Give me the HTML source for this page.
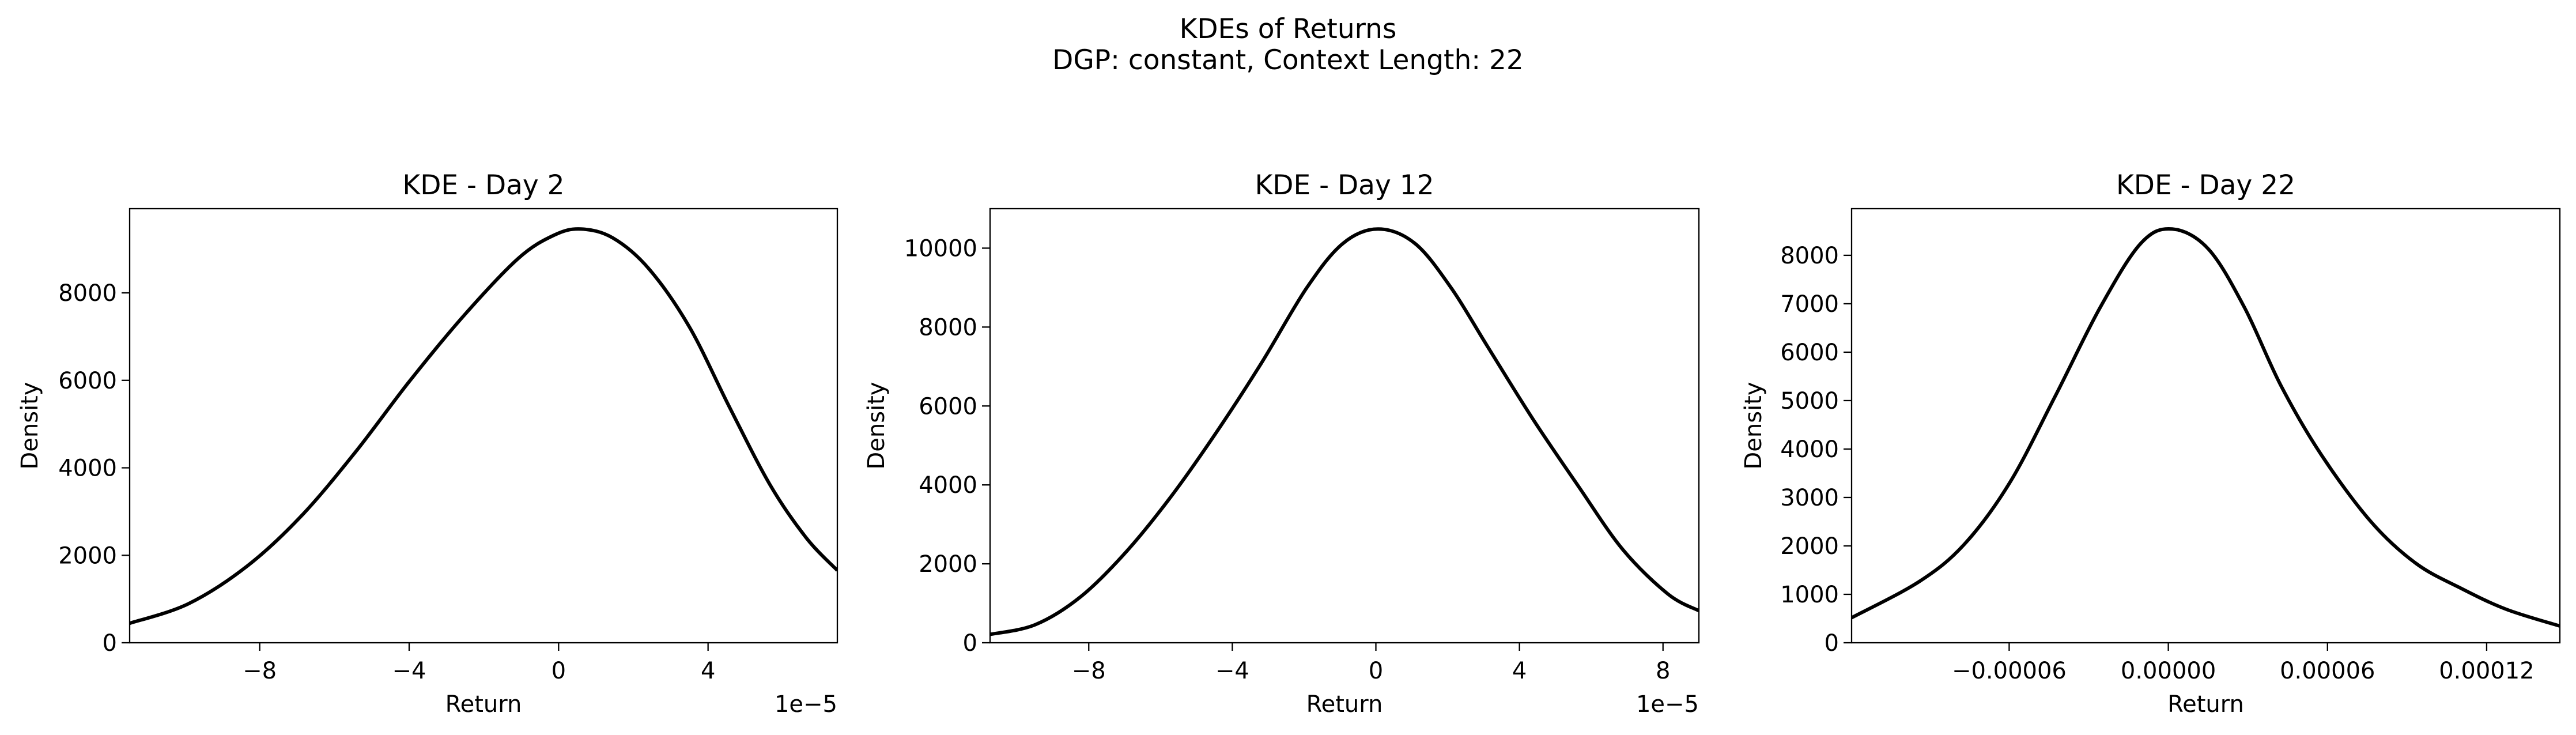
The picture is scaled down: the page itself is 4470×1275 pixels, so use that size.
<!DOCTYPE html>
<html><head><meta charset="utf-8"><style>
html,body{margin:0;padding:0;background:#fff;}
svg{display:block;font-family:"DejaVu Sans","Liberation Sans",sans-serif;}
</style></head><body>
<svg id="fig" width="4470" height="1275" viewBox="0 0 4470 1275" xmlns="http://www.w3.org/2000/svg">
<rect width="4470" height="1275" fill="#fff"/>
<text x="2235" y="66" font-size="47" text-anchor="middle">KDEs of Returns</text>
<text x="2235" y="120" font-size="47" text-anchor="middle">DGP: constant, Context Length: 22</text>
<g id="plots"></g>
</svg>
<script>
// Day 2 (x in 1e-5)
const day2X = [-11.48,-9.91,-8.34,-6.89,-5.44,-3.99,-2.54,-1.09,-0.12,0.60,1.45,2.41,3.50,4.58,5.67,6.64,7.46];
const day2Y = [445,891,1750,2895,4358,5980,7476,8780,9320,9460,9257,8557,7221,5376,3595,2386,1654];
// Day 12 (x in 1e-5)
const day12X = [-10.75,-9.49,-8.23,-6.97,-5.71,-4.45,-3.19,-1.93,-0.92,0.06,1.09,2.10,3.11,4.37,5.63,6.88,8.14,9.0];
const day12Y = [212,458,1163,2292,3702,5324,7087,8990,10118,10485,10118,8990,7510,5676,3984,2362,1234,811];
// Day 22 (x in 1e-5)
const day22X = [-11.94,-9.39,-7.68,-5.98,-4.27,-2.57,-1.04,0.15,1.51,2.87,4.24,5.77,7.64,9.34,11.05,12.75,14.76];
const day22Y = [517,1264,2040,3304,5085,6923,8245,8543,8130,6923,5315,3878,2499,1637,1120,689,345];
const titles = ["KDE - Day 2","KDE - Day 12","KDE - Day 22"];
const xTicks2 = [-8,-4,0,4];
const xTickLabels2 = ["\u22128","\u22124","0","4"];
const xTicks12 = [-8,-4,0,4,8];
const xTickLabels12 = ["\u22128","\u22124","0","4","8"];
const xTicks22 = [-6,0,6,12];
const xTickLabels22 = ["\u22120.00006","0.00000","0.00006","0.00012"];
const yTicks2 = [0,2000,4000,6000,8000];
const yTicks12 = [0,2000,4000,6000,8000,10000];
const yTicks22 = [0,1000,2000,3000,4000,5000,6000,7000,8000];

const NS="http://www.w3.org/2000/svg";
const root=document.getElementById('plots');
function mk(tag,attrs,parent){const e=document.createElementNS(NS,tag);for(const k in attrs)e.setAttribute(k,attrs[k]);(parent||root).appendChild(e);return e;}

const panels=[
 {key:'day-2',L:225,R:1453,xmin:-11.48,xmax:7.46,ymax:9925,xs:day2X,ys:day2Y,xt:xTicks2,xl:xTickLabels2,yt:yTicks2,off:true,dl:51},
 {key:'day-12',L:1718,R:2948,xmin:-10.75,xmax:9.0,ymax:11000,xs:day12X,ys:day12Y,xt:xTicks12,xl:xTickLabels12,yt:yTicks12,off:true,dl:1520},
 {key:'day-22',L:3213,R:4442,xmin:-11.94,xmax:14.76,ymax:8963,xs:day22X,ys:day22Y,xt:xTicks22,xl:xTickLabels22,yt:yTicks22,off:false,dl:3042}
];
const T=362,B=1115;
panels.forEach((p,i)=>{
  const g=mk('g',{});
  
  
  const sx=v=>p.L+(v-p.xmin)/(p.xmax-p.xmin)*(p.R-p.L);
  const sy=v=>B-v/p.ymax*(B-T);
  const pts=p.xs.map((x,j)=>[sx(x),sy(p.ys[j])]);
  let d='M'+pts[0][0]+','+pts[0][1];
  for(let j=0;j<pts.length-1;j++){
    const p0=pts[Math.max(0,j-1)],p1=pts[j],p2=pts[j+1],p3=pts[Math.min(pts.length-1,j+2)];
    const c1=[p1[0]+(p2[0]-p0[0])/6,p1[1]+(p2[1]-p0[1])/6];
    const c2=[p2[0]-(p3[0]-p1[0])/6,p2[1]-(p3[1]-p1[1])/6];
    d+=` C${c1[0]},${c1[1]} ${c2[0]},${c2[1]} ${p2[0]},${p2[1]}`;
  }
  const clip=mk('clipPath',{id:'c'+i},g);
  mk('rect',{x:p.L,y:T,width:p.R-p.L,height:B-T},clip);
  const path=mk('path',{d:d,fill:'none',stroke:'#000','stroke-width':6,'stroke-linejoin':'round','clip-path':'url(#c'+i+')'},g);
  
  
  const frame=mk('rect',{x:p.L,y:T,width:p.R-p.L,height:B-T,fill:'none',stroke:'#000','stroke-width':2.3},g);
  
  
  p.xt.forEach((v,j)=>{
    const x=sx(v);
    mk('line',{x1:x,x2:x,y1:B,y2:B+14,stroke:'#000','stroke-width':2.3},g);
    const t=mk('text',{x:x,y:B+62,'font-size':40,'text-anchor':'middle'},g);
    t.textContent=p.xl[j];
    
    
  });
  p.yt.forEach(v=>{
    const y=sy(v);
    mk('line',{x1:p.L-14,x2:p.L,y1:y,y2:y,stroke:'#000','stroke-width':2.3},g);
    const t=mk('text',{x:p.L-22,y:y+14,'font-size':40,'text-anchor':'end'},g);
    t.textContent=String(v);
    
    
  });
  const tt=mk('text',{x:(p.L+p.R)/2,y:337,'font-size':47,'text-anchor':'middle'},g);
  tt.textContent=titles[i];
  
  
  const xl=mk('text',{x:(p.L+p.R)/2,y:1235,'font-size':40,'text-anchor':'middle'},g);
  xl.textContent='Return';
  
  
  const yl=mk('text',{x:0,y:0,'font-size':40,'text-anchor':'middle',transform:`translate(${p.dl+14},${(T+B)/2}) rotate(-90)`},g);
  yl.textContent='Density';
  
  
  if(p.off){
    const o=mk('text',{x:p.R,y:1235,'font-size':40,'text-anchor':'end'},g);
    o.textContent='1e\u22125';
    
    
  }
});
</script>
</body></html>
